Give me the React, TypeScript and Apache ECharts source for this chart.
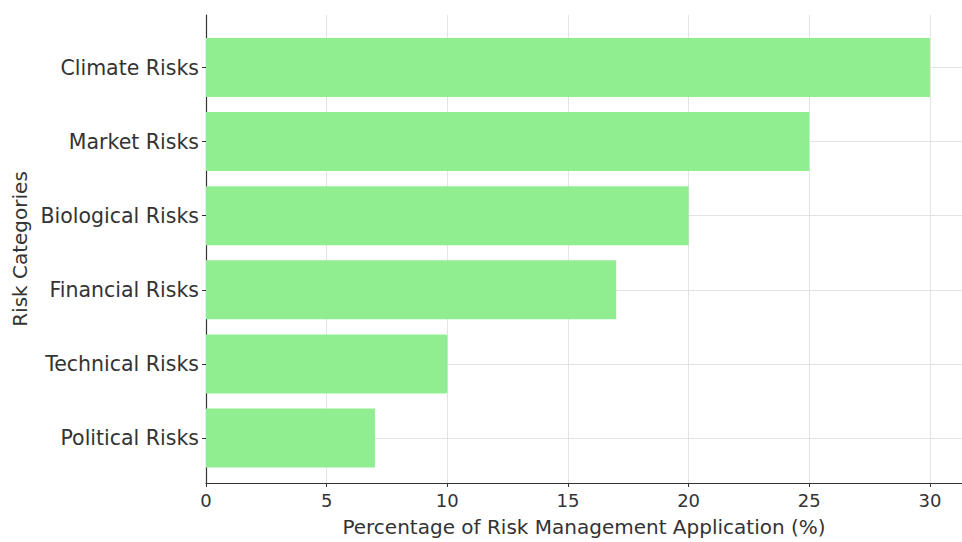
import React, { useEffect, useRef } from "react";
import * as echarts from "echarts";

const categories = [
  "Climate Risks",
  "Market Risks",
  "Biological Risks",
  "Financial Risks",
  "Technical Risks",
  "Political Risks",
];
const values = [30, 25, 20, 17, 10, 7];
const xTicks = [0, 5, 10, 15, 20, 25, 30];

const FONT = "DejaVu Sans";

export default function App() {
  const ref = useRef<HTMLDivElement>(null);
  useEffect(() => {
    const chart = echarts.init(ref.current!, null, { renderer: "svg" });
    chart.setOption({
      animation: false,
      backgroundColor: "#ffffff",
      textStyle: { fontFamily: FONT },
      grid: [
        { left: 206, right: 0, top: 15, bottom: 55, containLabel: false },
        { left: 206, right: 0, top: 67.5, bottom: 104, containLabel: false },
      ],
      xAxis: [
        {
          type: "value",
          gridIndex: 0,
          min: 0,
          max: 31.33,
          interval: 5,
          name: "Percentage of Risk Management Application (%)",
          nameLocation: "middle",
          nameGap: 34,
          nameTextStyle: { fontFamily: FONT, fontSize: 20, color: "#333" },
          axisLine: { show: true, lineStyle: { color: "#333", width: 1.2 } },
          axisTick: { show: true, length: 4, lineStyle: { color: "#333" } },
          axisLabel: {
            fontFamily: FONT,
            fontSize: 18,
            color: "#333",
            margin: 8,
            showMaxLabel: false,
            formatter: (v: number) => (xTicks.includes(v) ? String(v) : ""),
          },
          splitLine: { show: true, lineStyle: { color: "#e3e3e3", width: 1 } },
        },
        {
          type: "value",
          gridIndex: 1,
          min: 0,
          max: 31.33,
          show: false,
        },
      ],
      yAxis: [
        {
          type: "value",
          gridIndex: 0,
          min: 0,
          max: 1,
          name: "Risk Categories",
          nameLocation: "middle",
          nameGap: 176,
          nameTextStyle: { fontFamily: FONT, fontSize: 20, color: "#333" },
          axisLine: { show: true, lineStyle: { color: "#333", width: 1.2 } },
          axisTick: { show: false },
          axisLabel: { show: false },
          splitLine: { show: false },
        },
        {
          type: "category",
          gridIndex: 1,
          data: categories,
          inverse: true,
          boundaryGap: false,
          axisLine: { show: false },
          axisTick: { show: true, length: 4, lineStyle: { color: "#333" } },
          axisLabel: {
            fontFamily: FONT,
            fontSize: 20.5,
            color: "#333",
            margin: 7,
          },
          splitLine: { show: true, lineStyle: { color: "#e3e3e3", width: 1 } },
        },
      ],
      series: [
        {
          type: "bar",
          xAxisIndex: 1,
          yAxisIndex: 1,
          data: values,
          barWidth: 59,
          itemStyle: { color: "#90EE90" },
          z: 3,
        },
      ],
    });
    return () => chart.dispose();
  }, []);
  return (
    <div
      ref={ref}
      style={{ position: "fixed", left: 0, top: 0, width: 962, height: 542 }}
    />
  );
}
